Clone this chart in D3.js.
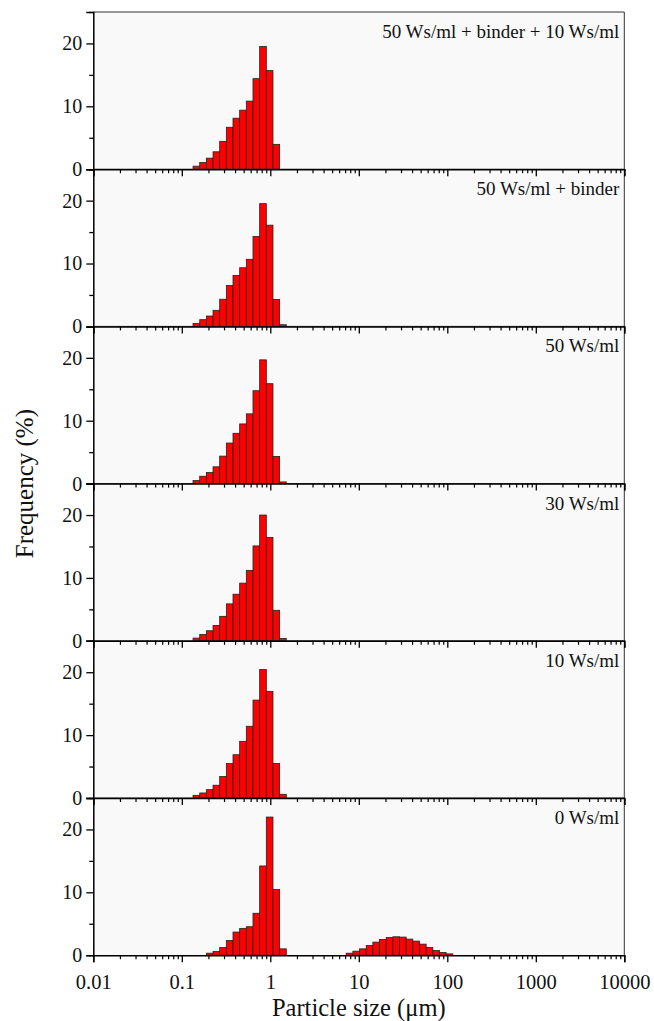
<!DOCTYPE html>
<html><head><meta charset="utf-8">
<script src="https://cdn.jsdelivr.net/npm/d3@7"></script>
<style>body{margin:0;background:#fff}</style>
</head><body><svg id="c" width="654" height="1021"></svg>
<script>
// bin edges (µm), shared by all panels; value i belongs to bin [edge i, edge i+1]
const binEdges = [0.134,0.1594,0.1895,0.2254,0.268,0.3187,0.379,0.4507,0.536,0.6374,0.758,0.9015,1.072,1.2748,1.516,1.8029,2.144,2.5497,3.032,3.6058,4.288,5.0995,6.064,7.212,8.576,10.199,12.128,14.42,17.15,20.4,24.26,28.85,34.3,40.79,48.51,57.69,68.61,81.59,97.02,115.4,137.2];

const panelLabels = ["50 Ws/ml + binder + 10 Ws/ml","50 Ws/ml + binder","50 Ws/ml","30 Ws/ml","10 Ws/ml","0 Ws/ml"];

const freq50b10 = [0.48,1.07,1.76,2.77,4.43,6.67,8.11,9.39,10.83,14.4,19.52,15.68,3.95];
const freq50b   = [0.48,1.07,1.65,2.56,4.32,6.51,8.11,9.33,10.67,14.29,19.52,16.1,4.27,0.27];
const freq50    = [0.48,1.17,1.76,2.67,4.37,6.45,8.0,9.49,11.09,14.77,19.68,15.89,4.32,0.27];
const freq30    = [0.43,1.01,1.6,2.45,3.89,5.87,7.41,9.17,11.2,15.09,20.0,16.43,4.85,0.37];
const freq10    = [0.43,0.8,1.33,2.03,3.41,5.49,6.88,9.01,11.41,15.57,20.43,16.96,5.49,0.59];
const freq0     = [0,0,0.32,0.59,1.23,2.35,3.68,4.27,4.53,6.67,14.19,21.97,10.45,1.01,
                   0,0,0,0,0,0,0,0,0,
                   0.32,0.64,1.01,1.55,2.08,2.51,2.83,2.93,2.88,2.56,2.24,1.76,1.23,0.75,0.43,0.21,0];

const series = [freq50b10,freq50b,freq50,freq30,freq10,freq0];

const xTickLabels = ["0.01","0.1","1","10","100","1000","10000"];
const yMajor = [0,10,20];
const yMinor = [5,15,25];

const svg = d3.select("#c");
const L = 93.3, R = 624.3, T0 = 12, PH = 157.2;
const x = d3.scaleLog().domain([0.01,10000]).range([L,R]);
const majorX = xTickLabels.map(Number);
const minorX = [];
for (let e=-2;e<4;e++) for (let m=2;m<10;m++) minorX.push(m*Math.pow(10,e));

const font = "'Liberation Serif','Times New Roman',serif";

// backgrounds
series.forEach((s,i)=>{
  svg.append("rect").attr("x",L).attr("y",T0+i*PH).attr("width",R-L).attr("height",PH).attr("fill","#f9f9f9");
});

series.forEach((vals,i)=>{
  const top = T0+i*PH, bot = top+PH;
  const y = d3.scaleLinear().domain([0,25]).range([bot,top]);
  const g = svg.append("g");
  const data = vals.map((v,j)=>({v, lo:binEdges[j], hi:binEdges[j+1]})).filter(d=>d.v>0);
  g.selectAll("rect.bar").data(data).join("rect").attr("class","bar")
    .attr("x",d=>x(d.lo)).attr("width",d=>x(d.hi)-x(d.lo))
    .attr("y",d=>y(d.v)).attr("height",d=>y(0)-y(d.v))
    .attr("fill","#f00").attr("stroke","#222").attr("stroke-width",0.8);

  // top & right border
  svg.append("line").attr("x1",L).attr("x2",R).attr("y1",top).attr("y2",top).attr("stroke","#333").attr("stroke-width",1);
  svg.append("line").attr("x1",R).attr("x2",R).attr("y1",top).attr("y2",bot).attr("stroke","#333").attr("stroke-width",1);

  // y axis
  const ya = svg.append("g").attr("transform",`translate(${L},0)`)
    .call(d3.axisLeft(y).tickValues(yMajor).tickSize(7).tickPadding(4).tickFormat(d3.format("d")));
  ya.select(".domain").attr("stroke","#000").attr("stroke-width",1.5);
  ya.selectAll(".tick line").attr("stroke-width",1.3);
  ya.selectAll(".tick text").attr("font-family",font).attr("font-size",20).attr("fill","#111");
  const ym = svg.append("g").attr("transform",`translate(${L},0)`)
    .call(d3.axisLeft(y).tickValues(yMinor).tickSize(4).tickFormat(""));
  ym.select(".domain").remove();
  ym.selectAll(".tick line").attr("stroke-width",1.3);

  // panel label
  svg.append("text").attr("x",R-5).attr("y",top+26).attr("text-anchor","end")
    .attr("font-family",font).attr("font-size",19).attr("fill","#111").text(panelLabels[i]);
});

// x axes drawn last so ticks show over next panel
series.forEach((vals,i)=>{
  const bot = T0+(i+1)*PH;
  const last = i===series.length-1;
  const xa = svg.append("g").attr("transform",`translate(0,${bot})`)
    .call(d3.axisBottom(x).tickValues(majorX).tickSize(7).tickPadding(12).tickFormat((d,k)=> last?xTickLabels[k]:""));
  xa.select(".domain").attr("stroke","#000").attr("stroke-width",1.5);
  xa.selectAll(".tick line").attr("stroke-width",1.3);
  xa.selectAll(".tick text").attr("font-family",font).attr("font-size",20.5).attr("fill","#111");
  const xm = svg.append("g").attr("transform",`translate(0,${bot})`)
    .call(d3.axisBottom(x).tickValues(minorX).tickSize(4).tickFormat(""));
  xm.select(".domain").remove();
  xm.selectAll(".tick line").attr("stroke-width",1.2);
});

svg.append("text").attr("x",(L+R)/2).attr("y",1016).attr("text-anchor","middle")
  .attr("font-family",font).attr("font-size",24.5).attr("fill","#111").text("Particle size (μm)");
svg.append("text").attr("transform",`translate(33,${T0+3*PH}) rotate(-90)`).attr("text-anchor","middle")
  .attr("font-family",font).attr("font-size",25).attr("fill","#111").text("Frequency (%)");
</script></body></html>
